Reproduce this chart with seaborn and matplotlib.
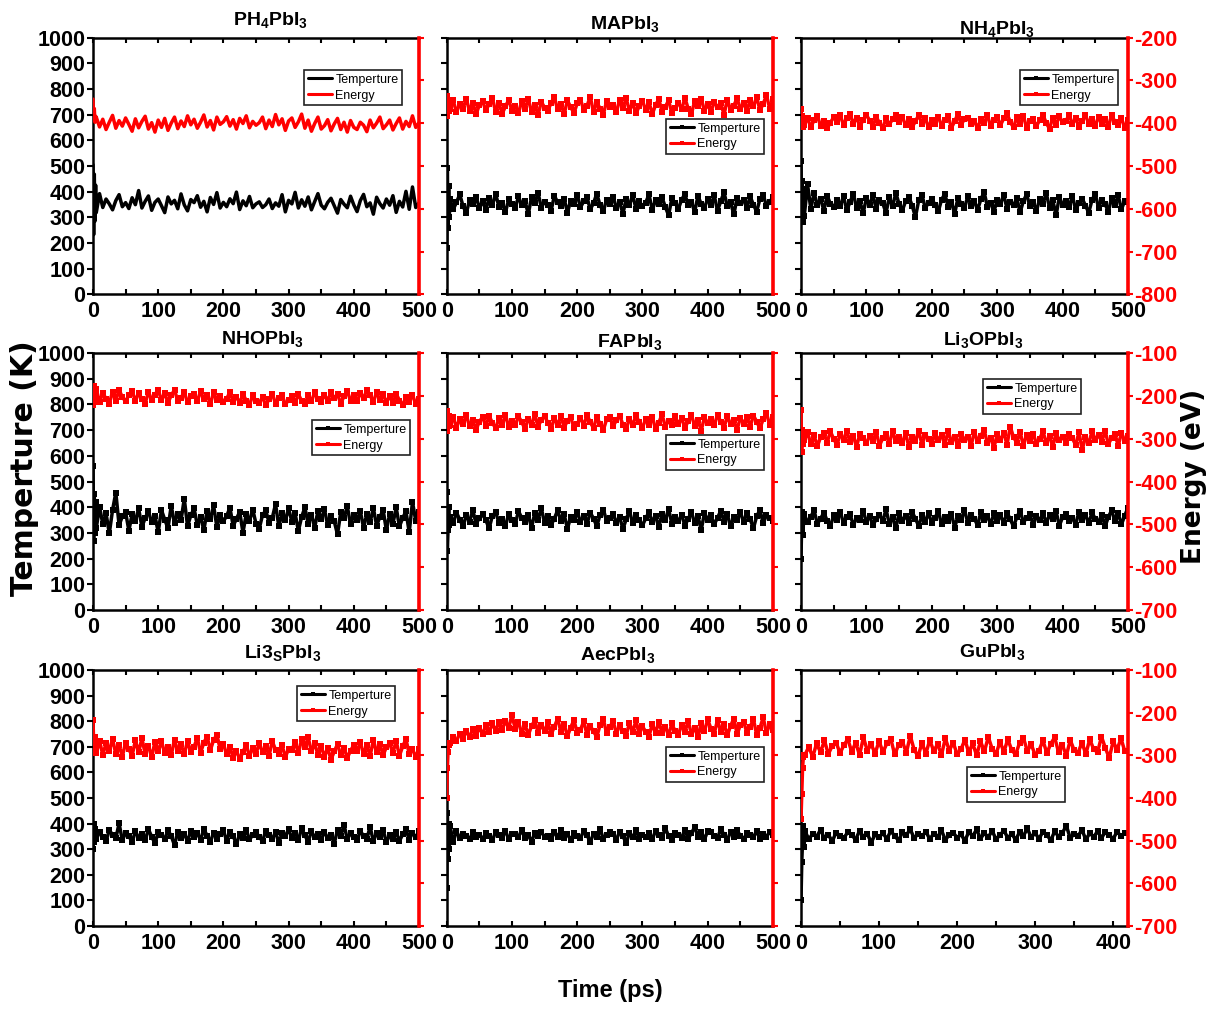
import numpy as np
import matplotlib
matplotlib.use("Agg")
import matplotlib.pyplot as plt
from matplotlib.ticker import MultipleLocator
import seaborn as sns

# ---------------------------------------------------------------- data
# time axis (ps): fine sampling over the first 4 ps, then every 5 ps
TIME_500 = [0, 1, 2, 3, 4] + list(range(5, 501, 5))
TIME_GU = [0, 1, 2, 3, 4] + list(range(5, 416, 5))

PH4_TEMP = [505, 232, 468, 285, 425,
            318, 392, 338, 371, 352, 329, 365, 388, 341, 357,
            334, 376, 349, 404, 336, 362, 383, 327, 358, 371,
            345, 318, 379, 352, 366, 333, 391, 348, 325, 369,
            357, 384, 339, 362, 321, 377, 350, 396, 336, 358,
            341, 372, 353, 398, 330, 364, 345, 381, 337, 352,
            360, 338, 349, 371, 334, 356, 343, 388, 321, 366,
            352, 397, 336, 368, 343, 379, 329, 361, 392, 347,
            333, 358, 374, 345, 316, 369, 351, 337, 382, 348,
            322, 365, 389, 341, 356, 312, 378, 353, 336, 371,
            347, 384, 319, 362, 340, 401, 331, 418, 338, 356]
PH4_ENERGY = [-344, -388, -366, -398, -384,
              -386, -409, -391, -415, -398, -382, -412, -394, -407, -388,
              -403, -419, -390, -411, -396, -384, -414, -399, -421, -393,
              -410, -389, -417, -400, -386, -413, -395, -408, -383, -404,
              -391, -412, -398, -381, -409, -394, -416, -386, -403, -397,
              -385, -407, -392, -414, -389, -401, -383, -411, -396, -405,
              -399, -386, -413, -393, -408, -380, -404, -390, -417, -395,
              -388, -410, -397, -379, -412, -393, -419, -401, -386, -414,
              -406, -392, -418, -402, -389, -415, -398, -421, -394, -410,
              -415, -398, -405, -420, -393, -411, -400, -386, -413, -404,
              -393, -416, -401, -388, -414, -396, -408, -383, -410, -399]

MAP_TEMP = [180, 490, 260, 420, 300,
            372, 331, 358, 389, 344, 316, 366, 351, 380, 337,
            362, 328, 375, 349, 391, 341, 356, 319, 370, 353,
            335, 381, 347, 364, 312, 378, 356, 395, 338, 361,
            349, 326, 384, 358, 342, 373, 318, 365, 351, 387,
            339, 362, 377, 331, 355, 392, 346, 323, 369, 352,
            380, 337, 359, 314, 371, 348, 386, 334, 362, 343,
            357, 389, 328, 366, 351, 377, 340, 308, 374, 355,
            333, 368, 391, 346, 360, 321, 383, 352, 338, 371,
            349, 385, 326, 363, 397, 342, 358, 311, 376, 354,
            367, 336, 381, 349, 322, 372, 388, 343, 360, 378]
MAP_ENERGY = [-336, -384, -350, -372, -356,
              -368, -347, -375, -355, -366, -343, -372, -352, -379, -358,
              -349, -370, -356, -341, -374, -353, -378, -361, -346, -371,
              -359, -377, -348, -366, -344, -373, -357, -381, -350, -364,
              -372, -352, -340, -368, -355, -379, -347, -363, -376, -354,
              -345, -369, -360, -338, -375, -351, -366, -380, -349, -362,
              -357, -374, -346, -365, -342, -371, -353, -377, -361, -348,
              -370, -351, -379, -358, -344, -373, -362, -347, -376, -365,
              -352, -368, -341, -366, -378, -349, -360, -343, -371, -356,
              -374, -350, -363, -354, -380, -345, -369, -359, -342, -367,
              -353, -372, -346, -361, -339, -370, -355, -335, -366, -344]

NH4_TEMP = [520, 300, 440, 280, 410,
            305, 428, 332, 395, 348, 371, 326, 384, 352, 339,
            367, 344, 381, 328, 359, 392, 337, 363, 316, 374,
            349, 386, 333, 368, 354, 318, 377, 342, 395, 351,
            327, 363, 379, 345, 301, 366, 388, 335, 357, 372,
            348, 323, 369, 391, 340, 358, 314, 376, 352, 336,
            381, 345, 362, 329, 370, 398, 341, 355, 322, 367,
            353, 387, 334, 361, 346, 375, 319, 363, 389, 343,
            358, 325, 371, 352, 394, 338, 366, 307, 379, 347,
            362, 339, 384, 328, 356, 373, 345, 318, 368, 391,
            337, 369, 351, 322, 376, 349, 385, 331, 364, 358]
NH4_ENERGY = [-368, -406, -384, -409, -390,
              -404, -388, -410, -393, -383, -407, -395, -412, -399, -386,
              -397, -382, -404, -389, -379, -401, -387, -408, -392, -381,
              -394, -408, -385, -400, -411, -389, -403, -391, -380, -398,
              -386, -405, -391, -409, -396, -381, -402, -388, -410, -393,
              -401, -385, -406, -392, -383, -411, -396, -378, -404, -390,
              -388, -403, -395, -412, -390, -400, -382, -407, -393, -385,
              -405, -389, -377, -398, -410, -386, -402, -383, -411, -394,
              -391, -407, -393, -381, -400, -413, -387, -404, -384, -398,
              -396, -380, -403, -388, -409, -394, -382, -401, -390, -406,
              -385, -402, -390, -408, -381, -397, -404, -389, -411, -393]

NHO_TEMP = [560, 270, 450, 300, 420,
            318, 402, 335, 376, 298, 389, 457, 330, 364, 381,
            309, 372, 346, 395, 323, 358, 384, 341, 367, 302,
            389, 352, 318, 406, 337, 375, 349, 433, 326, 368,
            395, 331, 362, 310, 386, 354, 407, 322, 371, 345,
            366, 398, 327, 355, 382, 301, 374, 347, 391, 336,
            317, 369, 388, 340, 359, 412, 325, 378, 350, 395,
            344, 376, 308, 362, 399, 335, 371, 320, 386, 353,
            392, 329, 365, 345, 294, 381, 357, 404, 333, 368,
            351, 385, 319, 374, 341, 397, 328, 362, 389, 310,
            373, 336, 399, 325, 358, 384, 302, 421, 347, 380]
NHO_ENERGY = [-222, -176, -188, -214, -192,
              -184, -215, -193, -207, -219, -190, -211, -186, -203, -213,
              -198, -188, -212, -194, -207, -218, -191, -209, -197, -186,
              -210, -194, -216, -199, -186, -212, -204, -192, -215, -201,
              -195, -213, -189, -208, -197, -219, -192, -210, -200, -214,
              -207, -191, -214, -202, -217, -196, -211, -221, -199, -212,
              -216, -203, -222, -208, -195, -218, -206, -198, -220, -210,
              -201, -217, -196, -212, -220, -199, -213, -192, -208, -215,
              -197, -212, -191, -206, -196, -218, -201, -189, -211, -199,
              -213, -194, -205, -187, -199, -214, -192, -209, -196, -216,
              -200, -217, -195, -211, -221, -203, -214, -197, -220, -208]

FA_TEMP = [460, 230, 310, 400, 330,
           361, 338, 379, 352, 325, 368, 344, 389, 336, 357,
           372, 349, 318, 366, 381, 340, 355, 327, 374, 351,
           334, 385, 358, 342, 369, 321, 377, 352, 396, 339,
           364, 331, 356, 388, 345, 372, 317, 361, 349, 383,
           342, 367, 335, 379, 356, 326, 370, 391, 347, 359,
           375, 340, 362, 315, 353, 386, 337, 368, 350, 329,
           357, 381, 343, 366, 322, 374, 349, 393, 336, 360,
           346, 371, 328, 355, 380, 339, 364, 312, 377, 352,
           368, 333, 359, 386, 344, 372, 325, 361, 349, 382,
           341, 376, 353, 318, 365, 389, 337, 370, 357, 346]
FA_ENERGY = [-236, -282, -254, -271, -248,
             -268, -249, -274, -255, -266, -245, -271, -257, -279, -260,
             -250, -270, -247, -263, -276, -252, -268, -244, -273, -258,
             -269, -248, -261, -278, -253, -267, -243, -272, -256, -247,
             -263, -277, -252, -268, -246, -274, -258, -249, -276, -265,
             -251, -270, -244, -262, -275, -249, -266, -280, -255, -250,
             -271, -257, -246, -267, -278, -253, -269, -245, -262, -274,
             -254, -268, -249, -277, -263, -243, -272, -258, -267, -248,
             -266, -252, -275, -259, -245, -270, -256, -281, -250, -264,
             -253, -269, -244, -261, -274, -248, -266, -257, -279, -251,
             -265, -249, -272, -246, -260, -276, -254, -241, -268, -250]

LI3O_TEMP = [200, 330, 380, 290, 360,
             372, 341, 363, 388, 335, 356, 379, 347, 326, 368,
             352, 383, 338, 361, 374, 330, 357, 349, 386, 343,
             366, 329, 354, 371, 345, 392, 336, 360, 318, 377,
             348, 365, 339, 381, 355, 327, 369, 344, 378, 337,
             359, 385, 333, 362, 347, 374, 321, 366, 352, 389,
             340, 371, 356, 329, 382, 350, 364, 335, 376, 345,
             368, 338, 379, 353, 325, 361, 387, 342, 357, 373,
             331, 364, 349, 377, 340, 368, 355, 384, 328, 361,
             375, 346, 358, 332, 383, 351, 369, 337, 380, 354,
             343, 371, 326, 362, 388, 345, 376, 333, 367, 398]
LI3O_ENERGY = [-232, -332, -280, -312, -290,
               -304, -285, -313, -292, -318, -296, -287, -309, -283, -301,
               -314, -290, -302, -282, -308, -294, -319, -288, -298, -311,
               -293, -306, -284, -316, -299, -289, -312, -283, -305, -295,
               -310, -287, -320, -297, -306, -281, -315, -291, -300, -313,
               -286, -303, -292, -314, -282, -307, -296, -318, -289, -302,
               -295, -317, -285, -305, -293, -279, -311, -298, -321, -290,
               -303, -286, -314, -272, -297, -309, -284, -316, -292, -306,
               -288, -312, -300, -283, -310, -294, -319, -287, -304, -297,
               -309, -290, -299, -315, -285, -326, -296, -311, -283, -302,
               -292, -307, -281, -313, -298, -288, -317, -286, -305, -294]

LI3S_TEMP = [300, 400, 330, 380, 350,
             338, 367, 349, 331, 375, 356, 342, 401, 335, 363,
             352, 327, 370, 345, 361, 334, 378, 349, 323, 366,
             357, 339, 374, 351, 316, 368, 343, 359, 332, 371,
             346, 362, 336, 379, 353, 328, 365, 341, 358, 374,
             333, 369, 352, 319, 361, 344, 376, 338, 355, 366,
             348, 331, 372, 357, 340, 367, 325, 362, 351, 378,
             342, 365, 336, 381, 354, 329, 370, 347, 359, 337,
             368, 343, 357, 322, 375, 350, 396, 339, 362, 346,
             334, 371, 352, 340, 388, 331, 363, 349, 376, 327,
             355, 341, 367, 332, 358, 379, 337, 364, 346, 371]
LI3S_ENERGY = [-218, -268, -294, -258, -290,
               -294, -266, -299, -272, -289, -262, -297, -276, -303, -270,
               -286, -301, -265, -293, -260, -296, -277, -305, -268, -290,
               -267, -295, -281, -300, -263, -291, -274, -298, -266, -293,
               -280, -259, -294, -270, -256, -288, -264, -252, -285, -273,
               -298, -280, -306, -289, -309, -292, -275, -302, -283, -297,
               -271, -293, -279, -301, -267, -287, -296, -276, -304, -285,
               -288, -268, -295, -262, -281, -258, -291, -272, -299, -279,
               -303, -283, -310, -291, -274, -300, -282, -306, -289, -276,
               -291, -269, -298, -275, -302, -264, -293, -273, -300, -280,
               -272, -294, -266, -301, -279, -262, -297, -285, -305, -284]

AEC_TEMP = [150, 440, 260, 400, 300,
            392, 328, 371, 343, 360, 352, 338, 366, 347, 355,
            341, 363, 350, 334, 368, 356, 345, 372, 339, 358,
            361, 347, 376, 343, 355, 330, 364, 351, 369, 346,
            353, 338, 367, 349, 375, 342, 359, 336, 362, 350,
            344, 371, 355, 328, 361, 348, 380, 340, 357, 366,
            359, 337, 369, 352, 323, 364, 346, 374, 341, 356,
            348, 365, 339, 371, 354, 343, 384, 350, 335, 362,
            357, 345, 376, 340, 363, 386, 349, 367, 338, 372,
            366, 351, 343, 379, 356, 335, 369, 348, 374, 352,
            340, 363, 355, 347, 372, 338, 361, 349, 368, 357]
AEC_ENERGY = [-400, -330, -292, -276, -270,
              -272, -258, -266, -249, -261, -243, -257, -238, -254, -235,
              -250, -230, -246, -225, -243, -222, -240, -219, -236, -205,
              -238, -222, -249, -227, -253, -231, -218, -247, -228, -244,
              -222, -251, -233, -214, -245, -226, -255, -235, -217, -248,
              -240, -220, -252, -231, -244, -257, -229, -215, -248, -234,
              -219, -249, -230, -243, -254, -224, -246, -218, -251, -232,
              -245, -256, -226, -248, -221, -247, -233, -253, -225, -244,
              -252, -228, -246, -219, -250, -235, -258, -224, -243, -216,
              -238, -249, -217, -245, -226, -253, -231, -214, -250, -229,
              -221, -247, -233, -215, -252, -236, -211, -248, -227, -240]

GU_TEMP = [100, 250, 330, 390, 310,
           372, 338, 361, 349, 376, 342, 357, 331, 365, 353,
           344, 367, 356, 337, 372, 348, 360, 326, 358, 346,
           363, 340, 371, 352, 334, 366, 355, 378, 343, 359,
           350, 369, 339, 361, 347, 374, 336, 357, 365, 345,
           358, 333, 368, 351, 377, 342, 362, 348, 371, 339,
           355, 373, 344, 360, 337, 366, 352, 381, 346, 363,
           341, 368, 357, 334, 370, 349, 364, 392, 343, 359,
           352, 375, 338, 362, 348, 370, 344, 367, 356, 340,
           369, 351, 362]
GU_ENERGY = [-450, -390, -330, -305, -300,
             -299, -280, -304, -272, -293, -265, -297, -278, -270, -295,
             -276, -262, -292, -270, -299, -258, -289, -274, -296, -266,
             -293, -272, -261, -298, -276, -268, -294, -254, -287, -302,
             -271, -296, -264, -290, -274, -299, -260, -289, -270, -297,
             -286, -263, -294, -272, -300, -267, -291, -257, -285, -296,
             -268, -292, -262, -288, -298, -271, -259, -290, -274, -299,
             -289, -265, -295, -273, -258, -292, -276, -301, -264, -288,
             -294, -270, -297, -262, -286, -293, -256, -283, -306, -267,
             -287, -260, -291]

TITLES = ["PH$_4$PbI$_3$", "MAPbI$_3$", "NH$_4$PbI$_3$",
          "NHOPbI$_3$", "FAPbI$_3$", "Li$_3$OPbI$_3$",
          "Li3$_S$PbI$_3$", "AecPbI$_3$", "GuPbI$_3$"]
LEGEND_LABELS = ["Temperture", "Energy"]

# ---------------------------------------------------------------- style
sns.set_theme(style="ticks")
plt.rcParams.update({
    "font.family": ["Liberation Sans", "DejaVu Sans"],
    "font.weight": "bold",
    "axes.unicode_minus": False,
    "axes.edgecolor": "black",
    "axes.labelcolor": "black",
    "text.color": "black",
    "xtick.color": "black",
    "ytick.color": "black",
    "mathtext.fontset": "custom",
    "mathtext.rm": "Liberation Sans:bold",
    "mathtext.bf": "Liberation Sans:bold",
    "mathtext.it": "Liberation Sans:bold",
    "mathtext.default": "bf",
})

W, H = 1223, 1009
fig = plt.figure(figsize=(W / 100, H / 100), dpi=100)

COL_X = [93.0, 446.7, 801.0]
COL_W = [326.0, 326.3, 327.0]
ROW_TOP = [37.5, 353.0, 670.0]
ROW_BOT = [294.3, 610.0, 926.0]

panels = [
    dict(t=TIME_500, temp=PH4_TEMP, en=PH4_ENERGY, elim=(-800, -200), mk=False,
         leg=(304, 70), title=(0.543, 13), xmax=500),
    dict(t=TIME_500, temp=MAP_TEMP, en=MAP_ENERGY, elim=(-800, -200), mk=True,
         leg=(666, 119), title=(0.547, 9), xmax=500),
    dict(t=TIME_500, temp=NH4_TEMP, en=NH4_ENERGY, elim=(-800, -200), mk=True,
         leg=(1020, 70), title=(0.600, 4), xmax=500),
    dict(t=TIME_500, temp=NHO_TEMP, en=NHO_ENERGY, elim=(-700, -100), mk=True,
         leg=(312, 420), title=(0.520, 9), xmax=500),
    dict(t=TIME_500, temp=FA_TEMP, en=FA_ENERGY, elim=(-700, -100), mk=True,
         leg=(666, 435), title=(0.560, 6), xmax=500),
    dict(t=TIME_500, temp=LI3O_TEMP, en=LI3O_ENERGY, elim=(-700, -100), mk=True,
         leg=(983, 379), title=(0.556, 8), xmax=500),
    dict(t=TIME_500, temp=LI3S_TEMP, en=LI3S_ENERGY, elim=(-700, -100), mk=True,
         leg=(297, 686), title=(0.583, 12), xmax=500),
    dict(t=TIME_500, temp=AEC_TEMP, en=AEC_ENERGY, elim=(-700, -100), mk=True,
         leg=(666, 747), title=(0.525, 10), xmax=500),
    dict(t=TIME_GU, temp=GU_TEMP, en=GU_ENERGY, elim=(-700, -100), mk=True,
         leg=(967, 767), title=(0.584, 13), xmax=419),
]

TICK_FS = 15.5
LW = 2.5

for i, p in enumerate(panels):
    r, c = divmod(i, 3)
    h_px = ROW_BOT[r] - ROW_TOP[r]
    ax = fig.add_axes([COL_X[c] / W, 1 - ROW_BOT[r] / H, COL_W[c] / W, h_px / H])
    ax2 = ax.twinx()

    mk = dict(marker="s", markersize=3.8, markeredgewidth=0) if p["mk"] else {}
    sns.lineplot(x=p["t"], y=p["temp"], ax=ax, color="black", linewidth=LW,
                 estimator=None, sort=False, label=LEGEND_LABELS[0], **mk)
    sns.lineplot(x=p["t"], y=p["en"], ax=ax2, color="red", linewidth=LW,
                 estimator=None, sort=False, label=LEGEND_LABELS[1], **mk)

    # axes ranges and ticks
    ax.set_xlim(0, p["xmax"])
    ax.set_ylim(0, 1000)
    ax2.set_ylim(*p["elim"])
    ax.xaxis.set_major_locator(MultipleLocator(100))
    ax.xaxis.set_minor_locator(MultipleLocator(50))
    ax.yaxis.set_major_locator(MultipleLocator(100))
    ax2.yaxis.set_major_locator(MultipleLocator(100))
    ax.tick_params(axis="x", which="both", direction="in", top=True, bottom=True,
                   length=3.5, width=1.5, labelsize=TICK_FS, pad=5)
    ax.tick_params(axis="y", which="major", direction="out", length=4, width=1.5,
                   labelsize=TICK_FS, pad=1.5, labelleft=(c == 0))
    ax2.tick_params(axis="y", which="major", direction="out", length=3.5, width=1.5,
                    colors="red", labelsize=TICK_FS, pad=1, labelright=(c == 2))
    ax.set_xlabel("")
    ax.set_ylabel("")
    ax2.set_ylabel("")

    for s in ("left", "top", "bottom"):
        ax.spines[s].set_linewidth(1.8)
        ax.spines[s].set_color("black")
        ax2.spines[s].set_visible(False)
    ax.spines["right"].set_visible(False)
    ax2.spines["right"].set_color("red")
    ax2.spines["right"].set_linewidth(2.6)

    # combined legend for both series
    h1, l1 = ax.get_legend_handles_labels()
    h2, l2 = ax2.get_legend_handles_labels()
    for a in (ax, ax2):
        if a.get_legend() is not None:
            a.get_legend().remove()
    lx, ly = p["leg"]
    leg = ax2.legend(h1 + h2, l1 + l2, loc="upper left",
                     bbox_to_anchor=(lx / W, 1 - ly / H),
                     bbox_transform=fig.transFigure, borderaxespad=0,
                     prop={"family": "Liberation Sans", "weight": "normal", "size": 9},
                     frameon=True, fancybox=False, framealpha=1,
                     edgecolor="#222222", handlelength=1.9, handletextpad=0.3,
                     borderpad=0.3, labelspacing=0.3, markerscale=0.9)
    leg.get_frame().set_linewidth(1.2)
    for ln in leg.get_lines():
        ln.set_linewidth(2.2)

    tx, toff = p["title"]
    ax.text(tx, 1 + toff / h_px, TITLES[i], transform=ax.transAxes,
            ha="center", va="baseline", fontsize=14, fontweight="bold")

fig.text(24.5 / W, 1 - 468 / H, "Temperture (K)", rotation=90, ha="center",
         va="center", fontsize=21.5, fontweight="bold", family="DejaVu Sans")
fig.text(1194 / W, 1 - 476 / H, "Energy (eV)", rotation=90, ha="center",
         va="center", fontsize=19, fontweight="bold", family="DejaVu Sans")
fig.text(610 / W, 1 - 990 / H, "Time (ps)", ha="center", va="center",
         fontsize=17, fontweight="bold")

fig.savefig("out.png", dpi=100)
